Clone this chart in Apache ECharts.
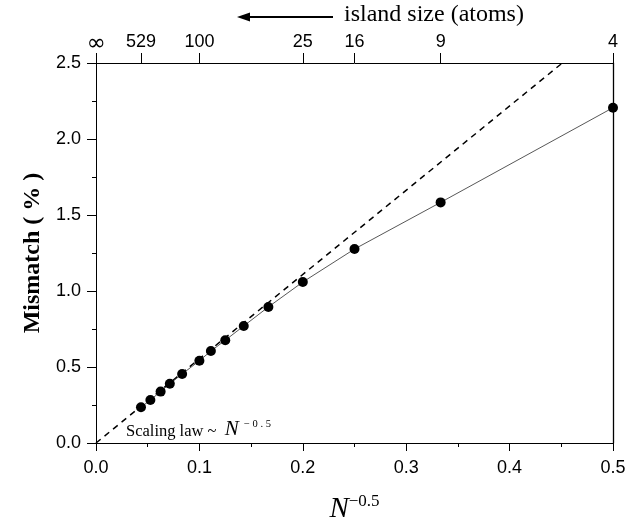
<!DOCTYPE html>
<html>
<head>
<meta charset="utf-8">
<script src="https://cdn.jsdelivr.net/npm/echarts@6/dist/echarts.min.js"></script>
<style>html,body{margin:0;padding:0;background:#fff}#c{width:642px;height:524px}</style>
</head>
<body>
<div id="c"></div>
<script>
// N^-0.5 values of the islands
const xValues = [0.0435, 0.0526, 0.0625, 0.0714, 0.0833, 0.1, 0.1111, 0.125, 0.1429, 0.1667, 0.2, 0.25, 0.3333, 0.5];
// Mismatch (%)
const mismatch = [0.235, 0.283, 0.338, 0.390, 0.454, 0.541, 0.605, 0.676, 0.770, 0.895, 1.059, 1.276, 1.583, 2.206];
// Scaling law line ~ N^-0.5 (endpoints)
const scalingX = [0, 0.451];
const scalingY = [0, 2.5];
// Top axis: island size (atoms)
const topTickValues = [0, 0.0435, 0.1, 0.2, 0.25, 0.3333, 0.5];
const topTickLabels = ['∞', '529', '100', '25', '16', '9', '4'];

const chart = echarts.init(document.getElementById('c'), null, {renderer: 'canvas'});
const sans = 'Liberation Sans, Arial, sans-serif';
const serif = 'Liberation Serif, Times New Roman, serif';

function topLabel(v) {
  let best = 0, bd = 1e9;
  topTickValues.forEach((t, i) => { const d = Math.abs(t - v); if (d < bd) { bd = d; best = i; } });
  return topTickLabels[best] === '∞' ? '{inf|∞}' : topTickLabels[best];
}

chart.setOption({
  animation: false,
  backgroundColor: '#fff',
  grid: {left: 96, right: 29, top: 63, bottom: 81, containLabel: false, outerBoundsMode: 'none', show: false},
  xAxis: [{
    type: 'value', min: 0, max: 0.5, interval: 0.1, position: 'bottom',
    name: '{n|N}{s|−0.5}', nameLocation: 'middle', nameGap: 50,
    nameTextStyle: {rich: {
      n: {fontFamily: serif, fontStyle: 'italic', fontSize: 29, color: '#000', verticalAlign: 'bottom'},
      s: {fontFamily: serif, fontSize: 17, color: '#000', verticalAlign: 'top', padding: [0, 0, 14, 0]}
    }},
    axisLine: {show: true, onZero: false, lineStyle: {color: '#000', width: 1}},
    axisTick: {show: true, inside: false, length: 8, lineStyle: {color: '#000'}},
    minorTick: {show: true, splitNumber: 2, length: 4, lineStyle: {color: '#000'}},
    splitLine: {show: false},
    axisLabel: {margin: 16, fontFamily: sans, fontSize: 18, color: '#000', formatter: v => v.toFixed(1)}
  }, {
    type: 'value', min: 0, max: 0.5, position: 'top',
    axisLine: {show: true, onZero: false, lineStyle: {color: '#000', width: 1}},
    axisTick: {show: true, inside: false, length: 10, customValues: topTickValues, lineStyle: {color: '#000'}},
    splitLine: {show: false},
    axisLabel: {margin: 12, fontFamily: sans, fontSize: 18, color: '#000', customValues: topTickValues,
      formatter: topLabel,
      rich: {inf: {fontFamily: 'DejaVu Sans, sans-serif', fontSize: 23, lineHeight: 14, color: '#000'}}}
  }],
  yAxis: [{
    type: 'value', min: 0, max: 2.5, interval: 0.5, position: 'left',
    name: 'Mismatch ( % )', nameLocation: 'middle', nameGap: 50, nameRotate: 90,
    nameTextStyle: {fontFamily: serif, fontWeight: 'bold', fontSize: 24, color: '#000'},
    axisLine: {show: true, onZero: false, lineStyle: {color: '#000', width: 1}},
    axisTick: {show: true, inside: false, length: 9, lineStyle: {color: '#000'}},
    minorTick: {show: true, splitNumber: 2, length: 4, lineStyle: {color: '#000'}},
    splitLine: {show: false},
    axisLabel: {margin: 15, fontFamily: sans, fontSize: 18, color: '#000', formatter: v => v.toFixed(1)}
  }, {
    type: 'value', min: 0, max: 2.5, interval: 0.5, position: 'right',
    axisLine: {show: true, onZero: false, lineStyle: {color: '#000', width: 1.3}},
    axisTick: {show: false}, axisLabel: {show: false}, splitLine: {show: false}
  }],
  series: [{
    type: 'line', name: 'scaling',
    data: scalingX.map((x, i) => [x, scalingY[i]]),
    symbol: 'none', silent: true,
    lineStyle: {color: '#000', width: 1.5, type: [6, 5]}
  }, {
    type: 'line', name: 'mismatch',
    data: xValues.map((x, i) => [x, mismatch[i]]),
    symbol: 'circle', symbolSize: 10,
    itemStyle: {color: '#000'},
    lineStyle: {color: '#444', width: 0.9},
    z: 5
  }],
  graphic: [
    {type: 'line', shape: {x1: 246, y1: 17, x2: 333, y2: 17}, style: {stroke: '#000', lineWidth: 2}},
    {type: 'polygon', shape: {points: [[237, 17], [250, 12.5], [250, 21.5]]}, style: {fill: '#000'}},
    {type: 'text', left: 344, top: 3, style: {text: 'island size (atoms)', font: '24px ' + serif, fill: '#000'}},
    {type: 'text', left: 126, top: 419, style: {
      text: '{a|Scaling law ~  }{n|N}{s|  − 0 . 5}',
      rich: {
        a: {fontFamily: serif, fontSize: 16.5, color: '#000', verticalAlign: 'bottom'},
        n: {fontFamily: serif, fontStyle: 'italic', fontSize: 21, color: '#000', verticalAlign: 'bottom'},
        s: {fontFamily: serif, fontSize: 10.5, color: '#000', verticalAlign: 'top'}
      }
    }}
  ]
});
</script>
</body>
</html>
